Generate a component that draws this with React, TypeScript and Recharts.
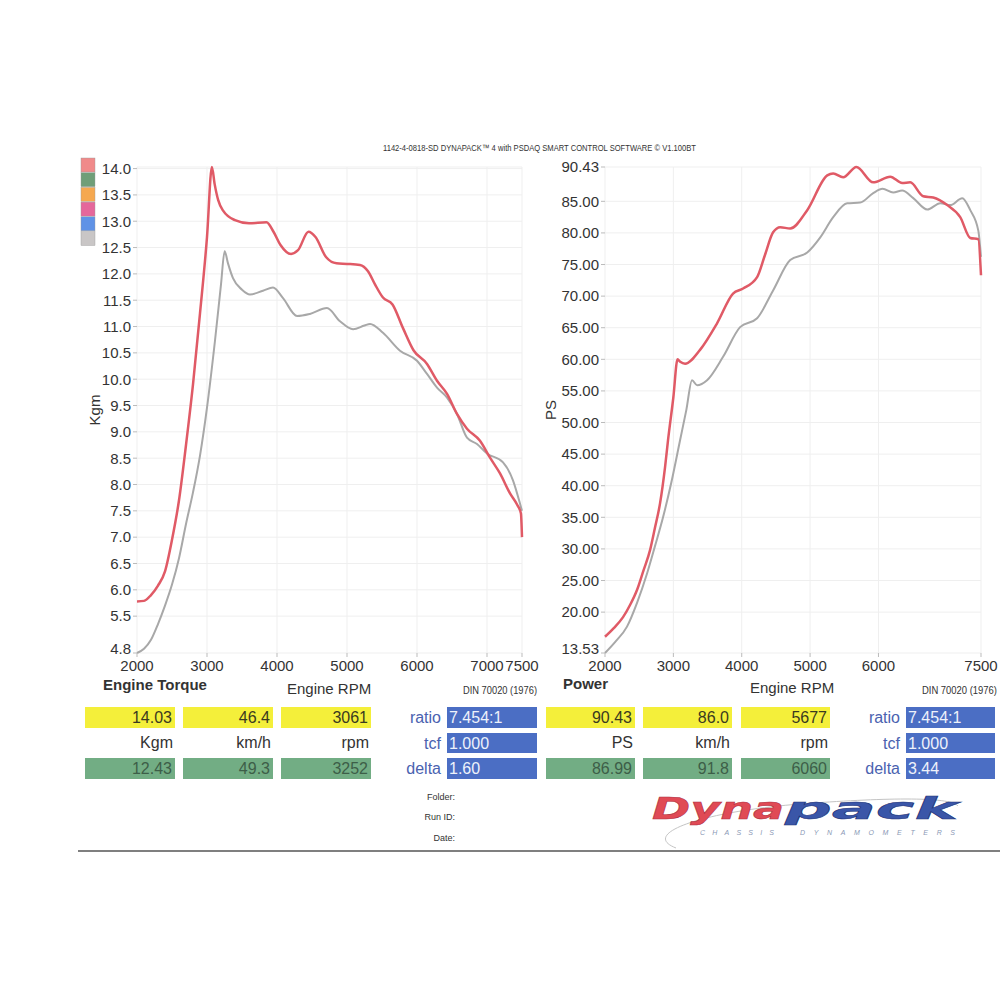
import React from "react";
import { LineChart, Line, XAxis, YAxis, CartesianGrid } from "recharts";

// rpm / value pairs
const torqueRun1 = [
  [2000, 5.78], [2100, 5.79], [2200, 5.9], [2300, 6.08], [2400, 6.35], [2500, 6.95],
  [2600, 7.7], [2700, 8.75], [2800, 9.9], [2900, 11.25], [3000, 12.7], [3070, 14.03],
  [3110, 13.7], [3160, 13.4], [3230, 13.2], [3400, 13.02], [3600, 12.96], [3850, 12.98],
  [3950, 12.8], [4050, 12.55], [4200, 12.38], [4300, 12.45], [4450, 12.8], [4550, 12.7],
  [4700, 12.32], [4850, 12.2], [5000, 12.19], [5186, 12.17], [5300, 12.05], [5400, 11.8],
  [5514, 11.55], [5650, 11.42], [5800, 10.97], [5950, 10.55], [6143, 10.29], [6286, 9.97],
  [6429, 9.72], [6571, 9.34], [6714, 9.06], [6900, 8.83], [7043, 8.51], [7186, 8.21],
  [7329, 7.83], [7429, 7.62], [7485, 7.45], [7500, 7.0],
];
const torqueRun2 = [
  [2000, 4.8], [2100, 4.88], [2200, 5.05], [2300, 5.35], [2400, 5.7], [2500, 6.1],
  [2600, 6.6], [2700, 7.25], [2800, 7.85], [2900, 8.55], [3000, 9.46],
  [3114, 10.73], [3200, 11.8], [3252, 12.43], [3300, 12.2], [3371, 11.92], [3500, 11.7],
  [3614, 11.61], [3800, 11.68], [3943, 11.74], [4086, 11.54], [4286, 11.2], [4471, 11.24],
  [4714, 11.35], [4900, 11.1], [5086, 10.95], [5250, 11.02], [5329, 11.05], [5514, 10.88],
  [5757, 10.54], [6000, 10.35], [6143, 10.1], [6286, 9.84], [6429, 9.65], [6571, 9.34],
  [6714, 8.89], [6857, 8.77], [7000, 8.59], [7229, 8.42], [7371, 8.08], [7471, 7.64],
  [7500, 7.5],
];
const powerRun1 = [
  [2000, 16.1], [2132, 17.5], [2264, 19.2], [2370, 21.2], [2468, 23.5], [2560, 26.5],
  [2659, 29.8], [2730, 33.3], [2805, 37.2], [2878, 42.9], [2922, 47.2], [3000, 54.0],
  [3061, 60.0], [3100, 59.6], [3171, 59.3], [3390, 61.5], [3639, 65.7], [3873, 70.4],
  [4020, 71.2], [4225, 73.0], [4340, 76.5], [4459, 80.1], [4563, 80.9], [4709, 80.7],
  [4958, 83.6], [5251, 89.1], [5338, 89.4], [5484, 88.8], [5677, 90.43], [5923, 88.0],
  [6172, 88.9], [6347, 87.9], [6465, 88.0], [6655, 85.8], [6801, 85.6], [7006, 84.4],
  [7196, 82.5], [7343, 79.2], [7460, 79.0], [7500, 73.3],
];
const powerRun2 = [
  [2000, 13.53], [2150, 15.3], [2322, 17.7], [2470, 21.5], [2615, 26.1], [2730, 30.4],
  [2849, 35.0], [2970, 40.5], [3098, 47.2], [3190, 52.0], [3273, 56.7], [3347, 55.9],
  [3493, 56.7], [3727, 60.4], [3976, 65.1], [4225, 66.5], [4459, 70.9], [4709, 75.7],
  [4958, 76.9], [5149, 79.3], [5338, 82.5], [5543, 84.7], [5733, 84.8], [5923, 86.3],
  [6060, 86.99], [6216, 86.4], [6347, 86.7], [6509, 85.5], [6714, 83.7], [6904, 84.7],
  [7050, 84.4], [7226, 85.5], [7343, 83.6], [7460, 80.4], [7500, 76.2],
];

const torqueRpmTicks = [2000, 3000, 4000, 5000, 6000, 7000, 7500];
const powerRpmTicks = [2000, 3000, 4000, 5000, 6000, 7500];
const kgmTicks = [4.8, 5.5, 6.0, 6.5, 7.0, 7.5, 8.0, 8.5, 9.0, 9.5, 10.0, 10.5, 11.0, 11.5, 12.0, 12.5, 13.0, 13.5, 14.0];
const psTicks = [13.53, 20, 25, 30, 35, 40, 45, 50, 55, 60, 65, 70, 75, 80, 85, 90.43];

const torquePeak1 = ["14.03", "46.4", "3061"];
const torquePeak2 = ["12.43", "49.3", "3252"];
const torqueUnits = ["Kgm", "km/h", "rpm"];
const powerPeak1 = ["90.43", "86.0", "5677"];
const powerPeak2 = ["86.99", "91.8", "6060"];
const powerUnits = ["PS", "km/h", "rpm"];
const settingLabels = ["ratio", "tcf", "delta"];
const torqueSettings = ["7.454:1", "1.000", "1.60"];
const powerSettings = ["7.454:1", "1.000", "3.44"];

const legendColors = ["#f08a8a", "#6f9e78", "#f5a850", "#e5679b", "#5f92e6", "#c9c6c6"];

const RUN1 = "#e05a66";
const RUN2 = "#a8a8a8";
const FONT = "'Liberation Sans', Arial, sans-serif";

const toPts = (pairs: number[][]) => pairs.map(([rpm, v]) => ({ rpm, v }));

interface DynoProps {
  left: number;
  width: number;
  rightMargin: number;
  yWidth: number;
  run1: number[][];
  run2: number[][];
  xTicks: number[];
  yTicks: number[];
  yDomain: [number, number];
  digits: number;
}

function DynoChart({ left, width, rightMargin, yWidth, run1, run2, xTicks, yTicks, yDomain, digits }: DynoProps) {
  const tick = { fill: "#333", fontSize: 15, fontFamily: FONT };
  // bottom y label sits just above the first rpm label, nudge it up a bit
  const yTick = (p: any) => {
    const lift = p.payload.value === yDomain[0] ? -4 : 0;
    return (
      <text x={p.x} y={p.y + lift} dy="0.355em" textAnchor="end" fill="#333" fontSize={15} fontFamily={FONT}>
        {Number(p.payload.value).toFixed(digits)}
      </text>
    );
  };
  return (
    <div style={{ position: "absolute", left, top: 0 }}>
      <LineChart width={width} height={700} margin={{ top: 167, right: rightMargin, bottom: 0, left: 0 }}>
        <CartesianGrid stroke="#efefef" />
        <XAxis
          type="number"
          dataKey="rpm"
          domain={[2000, 7500]}
          ticks={xTicks}
          interval={0}
          height={47}
          axisLine={false}
          tickSize={4}
          tickMargin={3}
          tickLine={{ stroke: "#bbb" }}
          tick={tick}
        />
        <YAxis
          type="number"
          domain={yDomain}
          ticks={yTicks}
          interval={0}
          width={yWidth}
          axisLine={false}
          tickSize={4}
          tickMargin={2}
          tickLine={{ stroke: "#bbb" }}
          tick={yTick}
        />
        <Line data={toPts(run2)} dataKey="v" type="monotone" stroke={RUN2} strokeWidth={2} dot={false} isAnimationActive={false} />
        <Line data={toPts(run1)} dataKey="v" type="monotone" stroke={RUN1} strokeWidth={2.5} dot={false} isAnimationActive={false} />
      </LineChart>
    </div>
  );
}

function Table({ boxXs, boxW, labelRight, blueX, top, units, bottom, settings }: {
  boxXs: number[]; boxW: number; labelRight: number; blueX: number;
  top: string[]; units: string[]; bottom: string[]; settings: string[];
}) {
  const rowYs = [707, 733, 758];
  return (
    <g fontFamily={FONT} fontSize={16}>
      {boxXs.map((x, i) => (
        <g key={i}>
          <rect x={x} y={707} width={boxW} height={21} fill="#f4ef3a" />
          <text x={x + boxW - 3} y={723} textAnchor="end" fill="#3a3a20">{top[i]}</text>
          <text x={x + boxW - 2} y={748} textAnchor="end" fill="#333">{units[i]}</text>
          <rect x={x} y={758} width={boxW} height={21} fill="#72ad84" />
          <text x={x + boxW - 3} y={774} textAnchor="end" fill="#3d5e48">{bottom[i]}</text>
        </g>
      ))}
      {rowYs.map((y, i) => (
        <g key={"b" + i}>
          <text x={labelRight} y={y + 16} textAnchor="end" fill="#4a62b0">{settingLabels[i]}</text>
          <rect x={blueX} y={y} width={boxW} height={i === 1 ? 20 : 21} fill="#4b6ec4" />
          <text x={blueX + 2} y={y + 16} fill="#eef2fb">{settings[i]}</text>
        </g>
      ))}
    </g>
  );
}

export default function App() {
  return (
    <div style={{ position: "absolute", left: 0, top: 0, width: 1000, height: 1000, background: "#fff", overflow: "hidden" }}>
      <DynoChart left={0} width={540} rightMargin={18} yWidth={137} run1={torqueRun1} run2={torqueRun2}
        xTicks={torqueRpmTicks} yTicks={kgmTicks} yDomain={[4.8, 14.0]} digits={1} />
      <DynoChart left={540} width={460} rightMargin={19} yWidth={65} run1={powerRun1} run2={powerRun2}
        xTicks={powerRpmTicks} yTicks={psTicks} yDomain={[13.53, 90.43]} digits={2} />
      <svg width={1000} height={1000} style={{ position: "absolute", left: 0, top: 0, pointerEvents: "none" }}>
        <text x={383} y={151} fontFamily={FONT} fontSize={9} fill="#333" textLength={313} lengthAdjust="spacingAndGlyphs">
          1142-4-0818-SD DYNAPACK™ 4 with PSDAQ SMART CONTROL SOFTWARE © V1.100BT
        </text>
        {legendColors.map((c, i) => (
          <rect key={c} x={81} y={158 + i * 14.7} width={14} height={14} fill={c} stroke="#999" strokeWidth={0.4} />
        ))}
        <text transform="translate(100,410) rotate(-90)" textAnchor="middle" fontFamily={FONT} fontSize={15} fill="#333">Kgm</text>
        <text transform="translate(556,410) rotate(-90)" textAnchor="middle" fontFamily={FONT} fontSize={15} fill="#333">PS</text>

        <text x={103} y={690} fontFamily={FONT} fontSize={15} fontWeight="bold" fill="#333">Engine Torque</text>
        <text x={287} y={694} fontFamily={FONT} fontSize={15} fill="#333">Engine RPM</text>
        <text x={463} y={694} fontFamily={FONT} fontSize={10} fill="#333" textLength={74} lengthAdjust="spacingAndGlyphs">DIN 70020 (1976)</text>
        <text x={563} y={689} fontFamily={FONT} fontSize={15} fontWeight="bold" fill="#333">Power</text>
        <text x={750} y={693} fontFamily={FONT} fontSize={15} fill="#333">Engine RPM</text>
        <text x={922} y={694} fontFamily={FONT} fontSize={10} fill="#333" textLength={75} lengthAdjust="spacingAndGlyphs">DIN 70020 (1976)</text>

        <Table boxXs={[85, 183, 281]} boxW={90} labelRight={441} blueX={447} top={torquePeak1} units={torqueUnits} bottom={torquePeak2} settings={torqueSettings} />
        <Table boxXs={[546, 643, 741]} boxW={89} labelRight={900} blueX={906} top={powerPeak1} units={powerUnits} bottom={powerPeak2} settings={powerSettings} />

        <g fontFamily={FONT} fontSize={9} fill="#333" textAnchor="end">
          <text x={455} y={800}>Folder:</text>
          <text x={455} y={820}>Run ID:</text>
          <text x={455} y={841}>Date:</text>
        </g>

        <path d="M 676 848 C 640 834, 700 812, 800 804 C 880 798, 950 796, 958 806" fill="none" stroke="#c4c4c4" strokeWidth={1} />
        <text x={652} y={819} fontFamily="'DejaVu Sans', sans-serif" fontWeight="bold" fontStyle="italic" fontSize={30} fill="#e04a55" stroke="#b03040" strokeWidth={0.5} textLength={132} lengthAdjust="spacingAndGlyphs">Dyna</text>
        <text x={785} y={819} fontFamily="'DejaVu Sans', sans-serif" fontWeight="bold" fontStyle="italic" fontSize={30} fill="#3a56a8" stroke="#23357a" strokeWidth={0.5} textLength={173} lengthAdjust="spacingAndGlyphs">pack</text>
        <text x={700} y={835} fontFamily={FONT} fontStyle="italic" fontSize={7} fill="#8a98b5" textLength={74} lengthAdjust="spacing">CHASSIS</text>
        <text x={800} y={835} fontFamily={FONT} fontStyle="italic" fontSize={7} fill="#8a98b5" textLength={155} lengthAdjust="spacing">DYNAMOMETERS</text>

        <line x1={78} y1={851} x2={1000} y2={851} stroke="#555" strokeWidth={1.5} />
      </svg>
    </div>
  );
}
